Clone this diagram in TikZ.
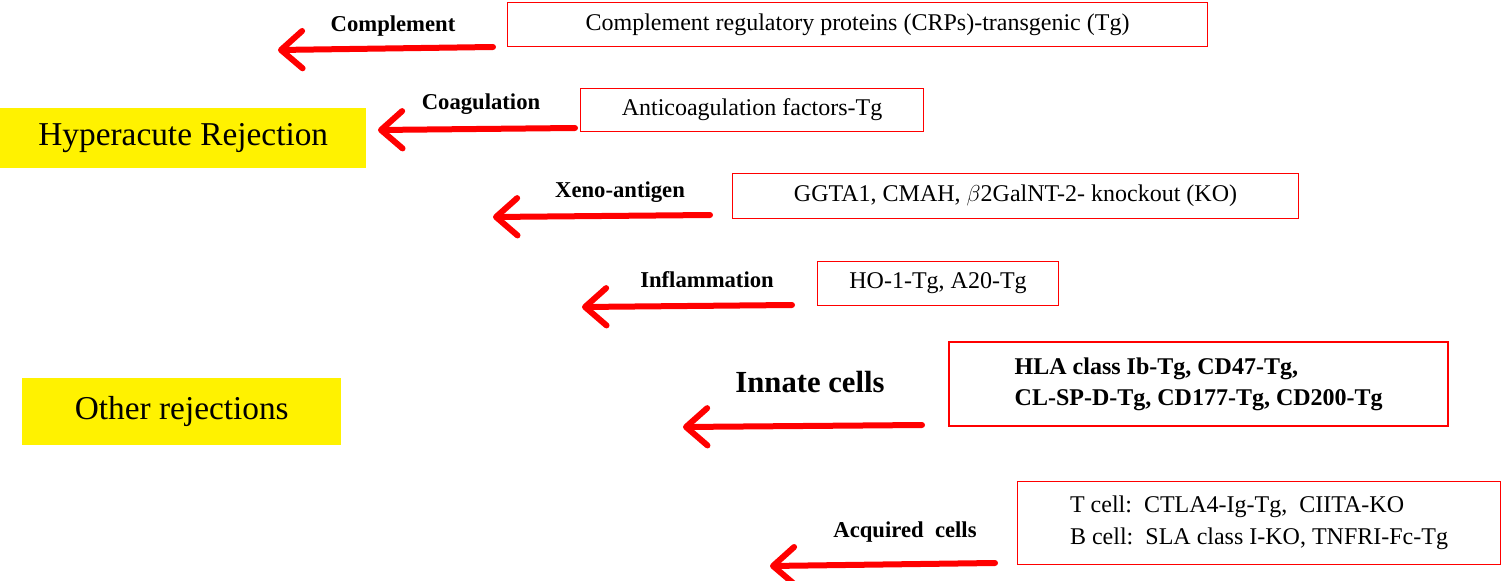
\documentclass[tikz,border=0pt]{standalone}
\usepackage{fontspec}
\setmainfont{Liberation Serif}
\usetikzlibrary{arrows.meta}
\begin{document}
\begin{tikzpicture}[x=0.75pt,y=-0.75pt,
  arr/.style={red,line width=4.5pt,line cap=round,-{Straight Barb[length=16pt,width=28pt,round]}},
  lbl/.style={font=\fontsize{17}{20}\selectfont\bfseries,inner sep=0pt},
  rbox/.style={draw=red,line width=0.8pt,anchor=north west,inner sep=0pt,font=\fontsize{18}{21}\selectfont},
  yel/.style={fill=yellow,anchor=north west,inner sep=0pt,font=\fontsize{25}{30}\selectfont}]
\useasboundingbox (0,0) rectangle (1501,581);
% boxes
\node[rbox,minimum width=700*0.75pt,minimum height=44*0.75pt] (b1) at (507,2) {Complement regulatory proteins (CRPs)-transgenic (Tg)};
\node[rbox,minimum width=343*0.75pt,minimum height=43*0.75pt] (b2) at (580,88) {Anticoagulation factors-Tg};
\node[rbox,minimum width=566*0.75pt,minimum height=45*0.75pt] (b3) at (732,173) {GGTA1, CMAH, $\beta$2GalNT-2- knockout (KO)};
\node[rbox,minimum width=241*0.75pt,minimum height=44*0.75pt] (b4) at (817,261) {HO-1-Tg, A20-Tg};
\node[rbox,line width=1.8pt,minimum width=499*0.75pt,minimum height=84*0.75pt,font=\fontsize{18}{23}\selectfont\bfseries,align=left] (b5) at (948,341) {HLA class Ib-Tg, CD47-Tg,\\CL-SP-D-Tg, CD177-Tg, CD200-Tg};
\node[rbox,minimum width=483*0.75pt,minimum height=83*0.75pt,align=left] (b6) at (1017,481) {T cell:\ \ CTLA4-Ig-Tg,\ \ CIITA-KO\\[3pt]B cell:\ \ SLA class I-KO, TNFRI-Fc-Tg};
% yellow
\node[yel,minimum width=366*0.75pt,minimum height=60*0.75pt] (y1) at (0,108) {Hyperacute Rejection};
\node[yel,minimum width=319*0.75pt,minimum height=67*0.75pt] (y2) at (22,378) {Other rejections};
% labels
\node[lbl] (l1) at (393,26) {Complement};
\node[lbl] (l2) at (481,104) {Coagulation};
\node[lbl] (l3) at (620,192) {Xeno-antigen};
\node[lbl] (l4) at (707,280) {Inflammation};
\node[lbl,font=\fontsize{23}{27}\selectfont\bfseries] (l5) at (810,382) {Innate cells};
\node[lbl] (l6) at (905,532) {Acquired\ \ cells};
% arrows
\coordinate (s1) at (493,47); \coordinate (e1) at (278,50);
\coordinate (s2) at (575,128); \coordinate (e2) at (378,130);
\coordinate (s3) at (710,215); \coordinate (e3) at (493,217);
\coordinate (s4) at (792,305); \coordinate (e4) at (582,307);
\coordinate (s5) at (922,425); \coordinate (e5) at (683,427);
\coordinate (s6) at (995,563); \coordinate (e6) at (770,566);
\foreach \i in {1,...,6} \draw[arr] (s\i) -- (e\i);
\end{tikzpicture}
\end{document}
